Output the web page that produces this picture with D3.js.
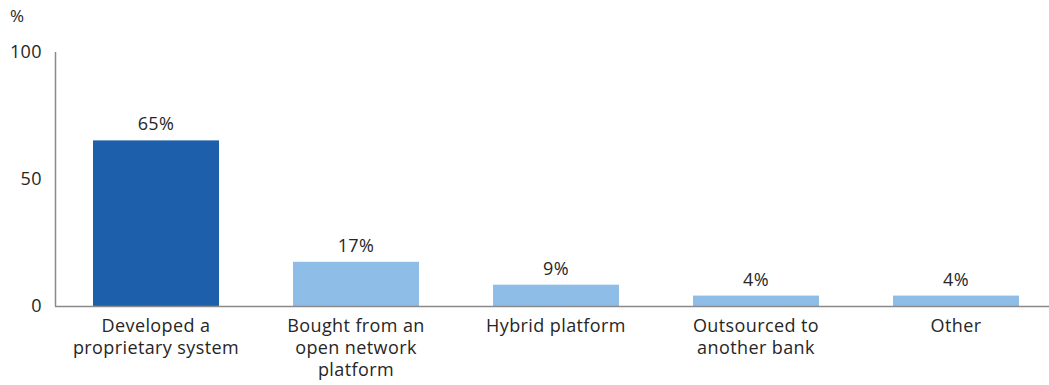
<!DOCTYPE html>
<html><head><meta charset="utf-8">
<script src="https://cdn.jsdelivr.net/npm/d3@7"></script>
<style>
html,body{margin:0;padding:0;background:#fff;}
svg{display:block;}
text{font-family:"Open Sans",sans-serif;fill:#262626;letter-spacing:0.4px;}
</style></head>
<body>
<svg id="chart" width="1049" height="385"></svg>
<script>
const categories = [
  ["Developed a", "proprietary system"],
  ["Bought from an", "open network", "platform"],
  ["Hybrid platform"],
  ["Outsourced to", "another bank"],
  ["Other"]
];
const values = [65.2, 17.4, 8.4, 4.1, 4.1];
const valueLabels = ["65%", "17%", "9%", "4%", "4%"];
const yTicks = [0, 50, 100];
const unitLabel = "%";

const svg = d3.select("#chart");
const x = d3.scaleBand().domain(d3.range(categories.length)).range([56, 1056])
  .paddingInner(0.37).paddingOuter(0.185);
const y = d3.scaleLinear().domain([0, 100]).range([306, 52]);
const fs = 18;

// bars
svg.selectAll("rect.bar").data(values).enter().append("rect")
  .attr("x", (d, i) => x(i)).attr("width", x.bandwidth())
  .attr("y", d => y(d)).attr("height", d => y(0) - y(d))
  .attr("fill", (d, i) => i === 0 ? "#1e5fac" : "#8ebee7");

// axes
const axisColor = "#8a8a8a";
svg.append("line").attr("x1", 55.5).attr("x2", 55.5).attr("y1", y(100)).attr("y2", y(0) + 0.5)
  .attr("stroke", axisColor).attr("stroke-width", 1.5);
svg.append("line").attr("x1", 55).attr("x2", 1049).attr("y1", y(0) + 0.5).attr("y2", y(0) + 0.5)
  .attr("stroke", axisColor).attr("stroke-width", 1.5);

// y tick labels
svg.selectAll("text.ytick").data(yTicks).enter().append("text")
  .attr("x", 42).attr("y", d => y(d)).attr("dy", "0.35em")
  .attr("text-anchor", "end").attr("font-size", fs).text(d => d);
svg.append("text").attr("x", 10).attr("y", 22).attr("font-size", fs - 1).text(unitLabel);

// value labels
svg.selectAll("text.val").data(values).enter().append("text")
  .attr("x", (d, i) => x(i) + x.bandwidth() / 2).attr("y", d => y(d) - 10)
  .attr("text-anchor", "middle").attr("font-size", fs).text((d, i) => valueLabels[i]);

// category labels
categories.forEach((lines, i) => {
  const t = svg.append("text").attr("text-anchor", "middle").attr("font-size", fs)
    .attr("x", x(i) + x.bandwidth() / 2).attr("y", 332);
  lines.forEach((l, j) => t.append("tspan").attr("x", x(i) + x.bandwidth() / 2)
    .attr("y", 332 + j * 22).text(l));
});
</script>
</body></html>
